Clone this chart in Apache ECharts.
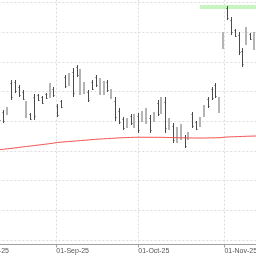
<!DOCTYPE html>
<html><head><meta charset="utf-8">
<script src="https://cdn.jsdelivr.net/npm/echarts@6/dist/echarts.min.js"></script>
<style>html,body{margin:0;padding:0;background:#fff}#c{width:256px;height:256px}</style>
</head><body><div id="c"></div>
<script>
// ---- data ----
const holidays = ['2025-09-01'];
const calendarStart = '2025-08-01';
const calendarEnd = '2025-11-14';
const monthTicks = ['2025-08-01', '2025-09-01', '2025-10-01', '2025-11-01'];
const firstBarDate = '2025-08-11';

const open = [
  142.6, 143.2, 142.6, 152.9, 153.2, 151.5, 150.0, 142.0, 142.4, 148.0, 148.8, 148.0, 149.1, 148.6, 151.0,
  145.1, 146.7, 154.9, 152.5, 156.5, 158.3, 150.1, 149.8, 149.9, 153.3, 155.0, 149.7, 149.6, 153.3, 148.0, 146.9, 143.6, 140.8, 138.2, 141.9, 138.4,
  141.8, 140.3, 139.9, 141.2, 140.2, 146.3, 143.3, 146.4, 137.6, 138.4, 133.5, 134.5, 134.7, 134.1, 142.3, 139.6, 138.6, 142.0, 147.6, 150.9, 152.1, 143.6, 165.2,
  178.1, 174.2, 170.6, 168.9, 163.7, 166.6, 169.3, 164.9
];
const close = [
  140.5, 140.0, 144.3, 148.0, 150.1, 148.8, 147.6, 146.0, 140.8, 141.6, 147.2, 146.3, 147.8, 152.1, 148.7,
  142.1, 144.9, 151.8, 155.6, 149.6, 155.5, 156.3, 152.6, 147.1, 151.0, 152.1, 153.7, 152.8, 150.4, 150.3, 141.3, 139.9, 137.7, 140.6, 139.3, 141.7,
  137.0, 142.9, 143.6, 136.9, 142.6, 142.5, 147.3, 137.8, 140.5, 133.7, 137.2, 138.2, 131.6, 135.9, 138.5, 137.5, 140.9, 144.8, 145.0, 147.8, 148.6, 147.3, 169.2,
  174.8, 169.9, 168.8, 163.4, 159.2, 170.8, 167.8, 169.1
];
const low = [
  140.07, 139.39, 142.09, 147.14, 149.49, 148.15, 147.14, 141.08, 140.41, 140.41, 146.80, 145.79, 147.48, 147.81, 148.15,
  141.41, 144.45, 151.18, 151.85, 148.15, 154.88, 148.82, 149.16, 146.47, 150.51, 151.52, 148.82, 148.82, 149.83, 147.48, 140.07, 139.06, 137.04, 137.71, 138.72, 137.71,
  136.03, 139.73, 139.06, 136.03, 139.73, 141.75, 142.42, 136.03, 137.04, 132.66, 132.66, 133.67, 130.98, 133.67, 137.71, 137.04, 138.05, 141.41, 144.45, 147.14, 147.81, 142.76, 164.31,
  174.07, 169.02, 168.35, 162.29, 158.25, 165.66, 167.34, 163.97
];
const high = [
  143.10, 143.77, 144.78, 153.87, 153.87, 152.19, 150.51, 146.80, 142.76, 149.16, 149.16, 148.49, 149.49, 152.86, 151.52,
  145.79, 147.14, 155.56, 156.23, 157.91, 158.92, 157.58, 153.20, 150.51, 153.87, 155.56, 154.55, 153.53, 153.87, 150.84, 148.15, 144.45, 141.41, 141.08, 142.42, 142.42,
  142.76, 143.44, 144.45, 142.09, 143.10, 147.14, 148.15, 148.15, 141.08, 139.39, 138.05, 139.06, 135.35, 136.36, 143.10, 140.07, 141.41, 145.46, 148.15, 151.52, 152.86, 148.15, 170.03,
  178.79, 175.08, 171.04, 170.03, 164.65, 171.72, 169.70, 170.03
];
const movingAverage = [
  130.38, 130.55, 130.70, 130.85, 131.00, 131.18, 131.35, 131.50, 131.65, 131.80, 131.96, 132.13, 132.28, 132.45, 132.62,
  132.84, 132.95, 133.06, 133.16, 133.26, 133.37, 133.48, 133.59, 133.70, 133.80, 133.91, 134.00, 134.07, 134.15, 134.23, 134.31, 134.39, 134.45, 134.50, 134.54, 134.58,
  134.61, 134.61, 134.60, 134.60, 134.59, 134.58, 134.57, 134.55, 134.52, 134.47, 134.44, 134.42, 134.40, 134.38, 134.36, 134.35, 134.34, 134.35, 134.37, 134.40, 134.43, 134.46, 134.58,
  134.69, 134.74, 134.79, 134.84, 134.89, 134.93, 134.97, 135.01, 135.03
];
const yGridValues = [100, 110, 120, 130, 140, 150, 160, 170, 180];
const highZone = { fromDate: '2025-10-23', low: 177.8, high: 179.1 };

// ---- trading calendar (weekdays minus holidays) ----
const DAY = 86400000;
function parseDate(s) { const p = s.split('-').map(Number); return Date.UTC(p[0], p[1] - 1, p[2]); }
const tradingDays = [];
for (let t = parseDate(calendarStart); t <= parseDate(calendarEnd); t += DAY) {
  const wd = new Date(t).getUTCDay();
  if (wd === 0 || wd === 6) continue;
  if (holidays.includes(new Date(t).toISOString().slice(0, 10))) continue;
  tradingDays.push(t);
}
function dateIndex(s) {
  const t = parseDate(s);
  const i = tradingDays.findIndex(x => x >= t);
  if (tradingDays[i] === t) return i;
  const p = tradingDays[i - 1], n = tradingDays[i];
  return i - 1 + (t - p) / (n - p);
}
const monthNames = ['Jan','Feb','Mar','Apr','May','Jun','Jul','Aug','Sep','Oct','Nov','Dec'];
function fmtDate(s) { const p = s.split('-'); return p[2] + '-' + monthNames[+p[1] - 1] + '-' + p[0].slice(2); }
const tickPos = monthTicks.map(dateIndex);

const start = dateIndex(firstBarDate);
const ohlc = open.map((o, k) => [start + k, o, close[k], low[k], high[k]]);
const maData = movingAverage.map((v, k) => [start + k, v]);

const chart = echarts.init(document.getElementById('c'), null, { renderer: 'canvas' });
chart.setOption({
  animation: false,
  backgroundColor: '#ffffff',
  grid: { left: -25.63, right: -7.6, top: -12.4, bottom: 11.5, containLabel: false, outerBoundsMode: 'none' },
  xAxis: {
    type: 'value', min: -0.5, max: tradingDays.length - 0.5,
    axisLine: { show: true, lineStyle: { color: '#a0a0a0', width: 1 } },
    axisTick: { show: true, customValues: tickPos, length: 3, lineStyle: { color: '#a0a0a0' } },
    axisLabel: {
      show: true, customValues: tickPos, align: 'left', margin: 3, hideOverlap: false,
      fontFamily: 'Liberation Sans', fontSize: 7, color: '#555',
      formatter: v => { const k = tickPos.findIndex(p => Math.abs(p - v) < 1e-6); return k >= 0 ? fmtDate(monthTicks[k]) : ''; }
    },
    splitLine: { show: true, lineStyle: { color: '#dcdcdc', type: [2, 2], width: 1 } }
  },
  yAxis: {
    type: 'value', min: 98.49, max: 185,
    axisLine: { show: false },
    axisTick: { show: false, customValues: yGridValues },
    axisLabel: { show: false, customValues: yGridValues },
    splitLine: { show: true, lineStyle: { color: '#dcdcdc', type: [2, 2], width: 1 } }
  },
  series: [
    {
      type: 'custom', data: ohlc, z: 3,
      encode: { x: 0, y: [1, 2, 3, 4] },
      renderItem: function (params, api) {
        const i = api.value(0), o = api.value(1), c = api.value(2), l = api.value(3), h = api.value(4);
        const ph = api.coord([i, h]), pl = api.coord([i, l]), po = api.coord([i, o]), pc = api.coord([i, c]);
        const x = Math.round(ph[0]);
        if (c >= o) {
          return { type: 'rect', shape: { x: x - 1, y: ph[1], width: 2, height: pl[1] - ph[1] }, style: { fill: '#b4b4b4' } };
        }
        const col = '#4a4a4a';
        return { type: 'group', children: [
          { type: 'line', shape: { x1: x + 0.5, y1: ph[1], x2: x + 0.5, y2: pl[1] }, style: { stroke: col, lineWidth: 1 } },
          { type: 'line', shape: { x1: x - 0.5, y1: Math.round(po[1]) + 0.5, x2: x + 0.5, y2: Math.round(po[1]) + 0.5 }, style: { stroke: col, lineWidth: 1 } },
          { type: 'line', shape: { x1: x + 0.5, y1: Math.round(pc[1]) + 0.5, x2: x + 1.5, y2: Math.round(pc[1]) + 0.5 }, style: { stroke: col, lineWidth: 1 } }
        ] };
      },
      markArea: {
        silent: true,
        itemStyle: { color: '#c6f5c0', opacity: 1 },
        data: [[{ xAxis: dateIndex(highZone.fromDate), yAxis: highZone.low }, { xAxis: tradingDays.length - 0.5, yAxis: highZone.high }]]
      }
    },
    {
      type: 'line', data: maData, z: 4, showSymbol: false, symbol: 'none',
      lineStyle: { color: '#f25555', width: 1 }
    }
  ]
});
</script>
</body></html>
